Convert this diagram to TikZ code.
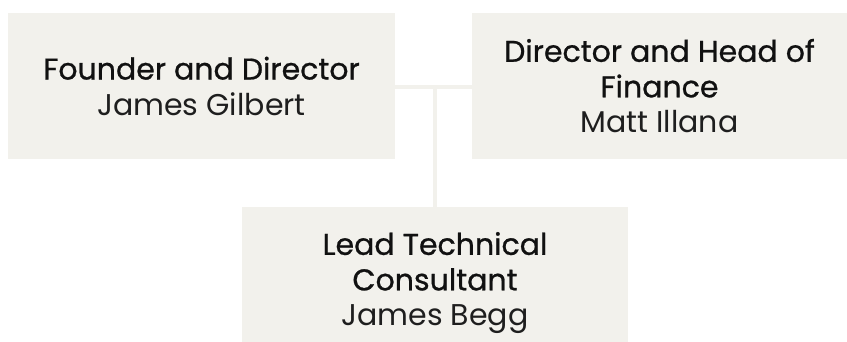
\documentclass[tikz,border=0pt]{standalone}
\usepackage{fontspec}
\setmainfont{Poppins}
\newfontfamily\titlefont{Poppins}[FakeBold=0.8]
\definecolor{boxfill}{HTML}{F2F1EC}
\definecolor{titleink}{HTML}{111111}
\definecolor{nameink}{HTML}{1E1E1E}
\begin{document}
\begin{tikzpicture}[x=1pt,y=-1pt,
  rolebox/.style={fill=boxfill, draw=none, inner sep=0pt, align=center,
    font=\fontsize{30}{35.5}\selectfont},
  link/.style={draw=boxfill, line width=4pt}]
\useasboundingbox (0,0) rectangle (847,342);
% role boxes
\node[rolebox, minimum width=387pt, minimum height=146pt] (founder) at (201.5,86)
  {{\titlefont\color{titleink}Founder and Director}\\ \color{nameink}James Gilbert};
\node[rolebox, minimum width=375pt, minimum height=146pt] (finance) at (659.5,86)
  {{\titlefont\color{titleink}Director and Head of}\\ {\titlefont\color{titleink}Finance}\\ \color{nameink}Matt Illana};
\node[rolebox, minimum width=386pt, minimum height=152pt] (tech) at (435,283)
  {{\titlefont\color{titleink}Lead Technical}\\ {\titlefont\color{titleink}Consultant}\\ \color{nameink}James Begg};
% connectors
\coordinate (hub) at (435,87);
\draw[link] (founder.east |- hub) -- (finance.west |- hub);
\draw[link] (hub) -- (tech.north);
\end{tikzpicture}
\end{document}
